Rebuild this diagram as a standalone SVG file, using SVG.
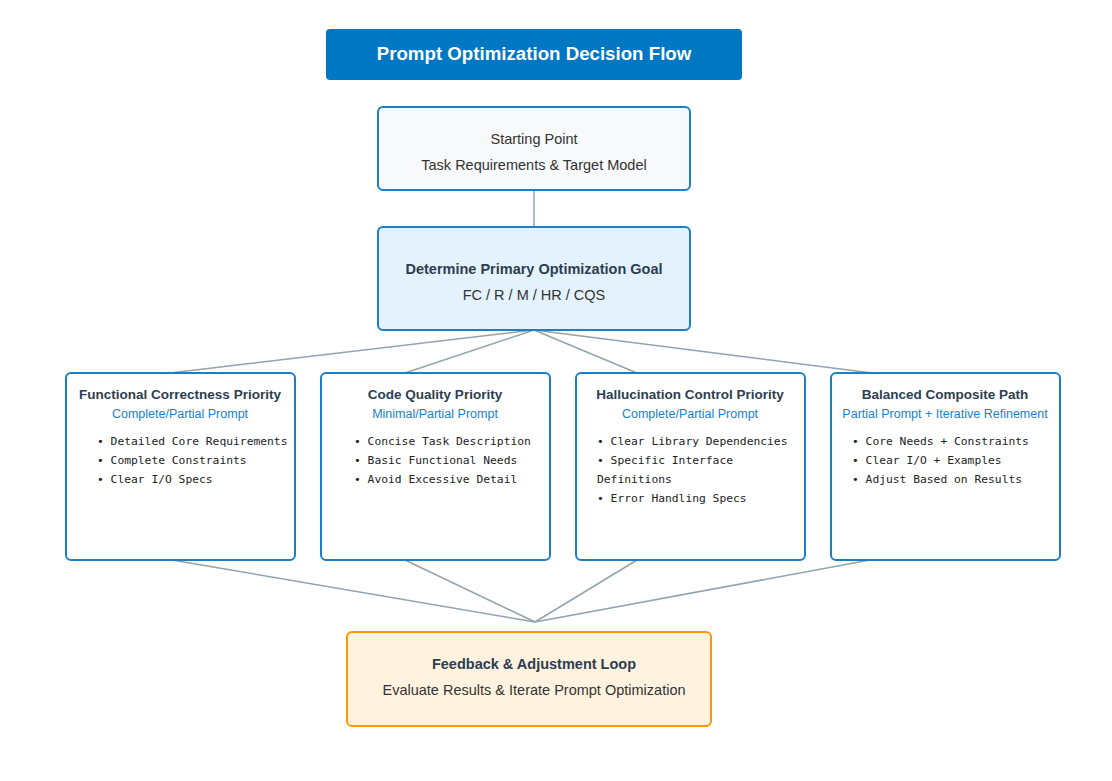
<svg xmlns="http://www.w3.org/2000/svg" width="1112" height="781" viewBox="0 0 1112 781">
<style>
.sans{font-family:"Liberation Sans",Arial,sans-serif;}
.mono{font-family:"DejaVu Sans Mono","Liberation Mono",monospace;font-size:11.3px;fill:#222;}
.box{stroke:#1a7fc9;stroke-width:2;}
.conn{stroke:#90a4ae;stroke-width:1.5;fill:none;}
.h{font-weight:bold;font-size:14.5px;fill:#2c3e50;text-anchor:middle;}
.hb{font-weight:bold;font-size:13.5px;fill:#2c3e50;text-anchor:middle;}
.t{font-size:14.5px;fill:#333;text-anchor:middle;}
.sub{font-size:12.5px;fill:#1a7fc9;text-anchor:middle;}
</style>
<rect width="1112" height="781" fill="#ffffff"/>
<g id="connectors">
<line class="conn" x1="534" y1="190" x2="534" y2="227"/>
<line class="conn" x1="534" y1="330" x2="170" y2="373"/>
<line class="conn" x1="534" y1="330" x2="405" y2="373"/>
<line class="conn" x1="534" y1="330" x2="637" y2="373"/>
<line class="conn" x1="534" y1="330" x2="872" y2="373"/>
<line class="conn" x1="172" y1="560" x2="535" y2="622"/>
<line class="conn" x1="405" y1="560" x2="535" y2="622"/>
<line class="conn" x1="637" y1="560" x2="535" y2="622"/>
<line class="conn" x1="870" y1="560" x2="535" y2="622"/>
</g>
<g id="title">
<rect x="326" y="29" width="416" height="51" rx="4" fill="#0077c2"/>
<text class="sans" x="534" y="60" text-anchor="middle" font-size="18.7" font-weight="bold" fill="#ffffff">Prompt Optimization Decision Flow</text>
</g>
<g id="start">
<rect class="box" x="378" y="107" width="312" height="83" rx="5" fill="#f8f9fa"/>
<text class="sans t" x="534" y="144">Starting Point</text>
<text class="sans t" x="534" y="170">Task Requirements &amp; Target Model</text>
</g>
<g id="goal">
<rect class="box" x="378" y="227" width="312" height="103" rx="5" fill="#e3f2fd"/>
<text class="sans h" x="534" y="274">Determine Primary Optimization Goal</text>
<text class="sans t" x="534" y="300">FC / R / M / HR / CQS</text>
</g>
<g id="fc">
<rect class="box" x="66" y="373" width="229" height="187" rx="5" fill="#ffffff"/>
<text class="sans hb" x="180" y="399">Functional Correctness Priority</text>
<text class="sans sub" x="180" y="418">Complete/Partial Prompt</text>
<text class="mono" x="97" y="445">• Detailed Core Requirements</text>
<text class="mono" x="97" y="464">• Complete Constraints</text>
<text class="mono" x="97" y="483">• Clear I/O Specs</text>
</g>
<g id="cq">
<rect class="box" x="321" y="373" width="229" height="187" rx="5" fill="#ffffff"/>
<text class="sans hb" x="435" y="399">Code Quality Priority</text>
<text class="sans sub" x="435" y="418">Minimal/Partial Prompt</text>
<text class="mono" x="354" y="445">• Concise Task Description</text>
<text class="mono" x="354" y="464">• Basic Functional Needs</text>
<text class="mono" x="354" y="483">• Avoid Excessive Detail</text>
</g>
<g id="hc">
<rect class="box" x="576" y="373" width="229" height="187" rx="5" fill="#ffffff"/>
<text class="sans hb" x="690" y="399">Hallucination Control Priority</text>
<text class="sans sub" x="690" y="418">Complete/Partial Prompt</text>
<text class="mono" x="597" y="445">• Clear Library Dependencies</text>
<text class="mono" x="597" y="464">• Specific Interface</text>
<text class="mono" x="597" y="483">Definitions</text>
<text class="mono" x="597" y="502">• Error Handling Specs</text>
</g>
<g id="bc">
<rect class="box" x="831" y="373" width="229" height="187" rx="5" fill="#ffffff"/>
<text class="sans hb" x="945" y="399">Balanced Composite Path</text>
<text class="sans sub" x="945" y="418">Partial Prompt + Iterative Refinement</text>
<text class="mono" x="852" y="445">• Core Needs + Constraints</text>
<text class="mono" x="852" y="464">• Clear I/O + Examples</text>
<text class="mono" x="852" y="483">• Adjust Based on Results</text>
</g>
<g id="feedback">
<rect x="347" y="632" width="364" height="94" rx="5" fill="#fff3e0" stroke="#ff9800" stroke-width="2"/>
<text class="sans h" x="534" y="669">Feedback &amp; Adjustment Loop</text>
<text class="sans t" x="534" y="695">Evaluate Results &amp; Iterate Prompt Optimization</text>
</g>
</svg>
